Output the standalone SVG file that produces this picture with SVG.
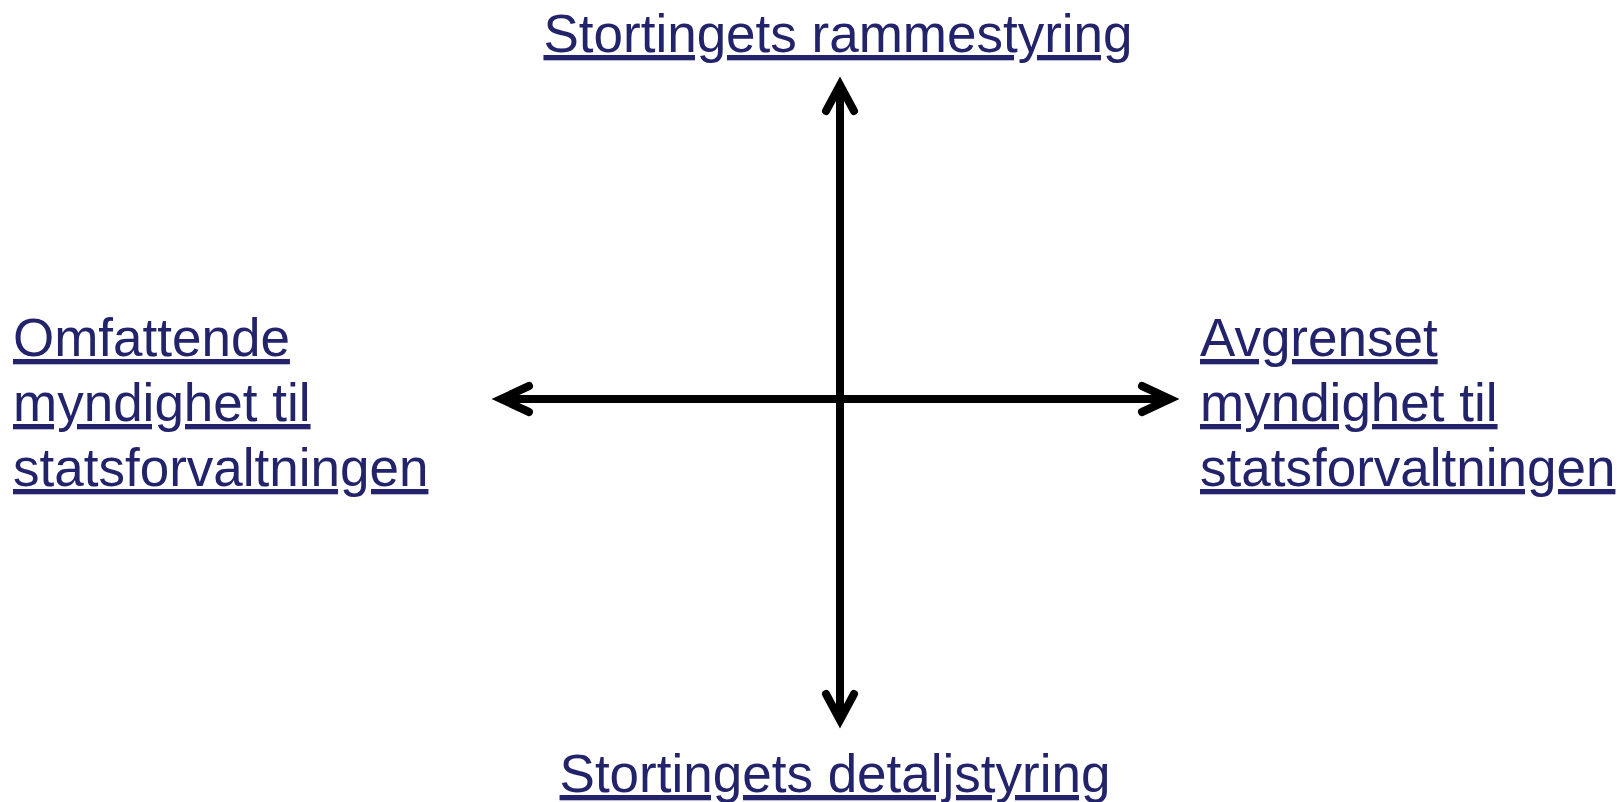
<svg xmlns="http://www.w3.org/2000/svg" width="1623" height="802" viewBox="0 0 1623 802">
<style>
.lbl{font-family:"Liberation Sans",Arial,sans-serif;font-size:53px;fill:#23236B;text-decoration:underline;text-decoration-skip-ink:none}
.ax{stroke:#000;stroke-width:8;fill:none}
.hd{stroke:#000;stroke-width:8;fill:none;stroke-linecap:round;stroke-linejoin:miter}
</style>
<rect width="1623" height="802" fill="#fff"/>
<g id="connectors">
<line class="ax" x1="840" y1="89" x2="840" y2="718"/>
<line class="ax" x1="504" y1="399" x2="1167" y2="399"/>
<polyline class="hd" points="826,111 840,85 854,111"/>
<polyline class="hd" points="826,694 840,720 854,694"/>
<polyline class="hd" points="529,386 501,399 529,412"/>
<polyline class="hd" points="1142,386 1170,399 1142,412"/>
</g>
<g id="top"><text class="lbl" x="838" y="52" text-anchor="middle">Stortingets rammestyring</text></g>
<g id="bottom"><text class="lbl" x="835" y="792" text-anchor="middle">Stortingets detaljstyring</text></g>
<g id="left"><text class="lbl" x="13" y="356">Omfattende</text><text class="lbl" x="13" y="421">myndighet til</text><text class="lbl" x="13" y="486">statsforvaltningen</text></g>
<g id="right"><text class="lbl" x="1200" y="356">Avgrenset</text><text class="lbl" x="1200" y="421">myndighet til</text><text class="lbl" x="1200" y="486">statsforvaltningen</text></g>
</svg>
